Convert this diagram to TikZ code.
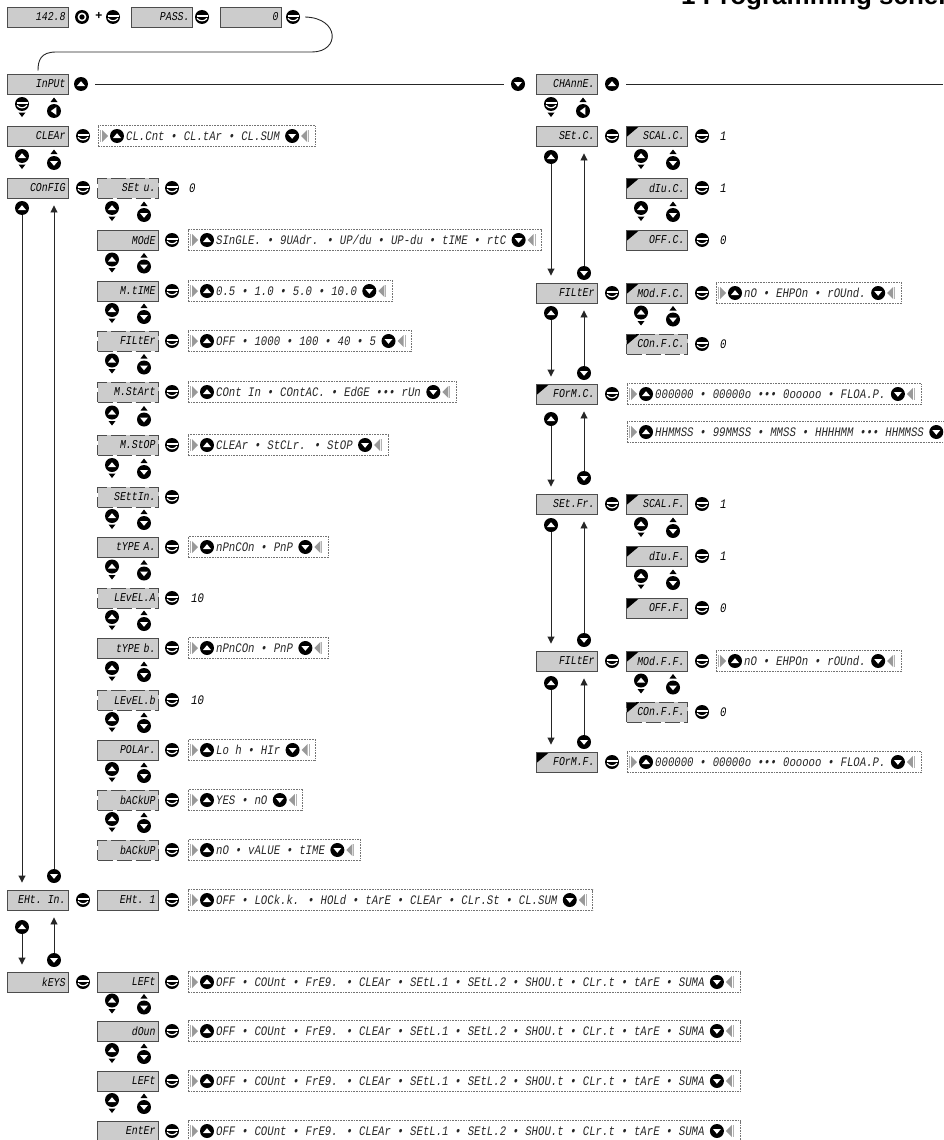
\documentclass[tikz,border=0pt]{standalone}
\usepackage{fontspec}
\setmainfont{Liberation Sans}
\newfontfamily\segfamily{Liberation Mono}[FakeStretch=0.82]
\usetikzlibrary{arrows.meta,positioning}

\newcommand{\seg}{\segfamily\itshape\fontsize{13}{14}\selectfont}
\newcommand{\segdisp}{\segfamily\itshape\fontsize{12}{13}\selectfont}
\newcommand{\kc}[1]{([shift={#1}]path picture bounding box.center)}
% option list: name, left x, y, entries
\newcommand{\optlist}[4]{%
  \coordinate (#1a) at (#2,#3-10.5);
  \coordinate (#1b) at (#2,#3+10.5);
  \draw[optbar] (#2+2.5,#3-6) -- (#2+2.5,#3+6);
  \fill[optmark] (#2+4,#3-6) -- (#2+10,#3) -- (#2+4,#3+6) -- cycle;
  \node[kup] (#1u) at (#2+19,#3) {};
  \node[opttext, anchor=west] (#1t) at (#2+28,#3) {#4};
  \node[kdn, right=5pt of #1t] (#1d) {};
  \path ([xshift=23pt]#1d.center) coordinate (#1r);
  \fill[optmark] ([xshift=9pt]#1d.center) -- ([xshift=15pt,yshift=6pt]#1d.center) -- ([xshift=15pt,yshift=-6pt]#1d.center) -- cycle;
  \draw[optbar] ([xshift=16.5pt,yshift=6pt]#1d.center) -- ([xshift=16.5pt,yshift=-6pt]#1d.center);
  \draw[optframe] (#1a) rectangle (#1r |- #1b);
}

\begin{document}
\begin{tikzpicture}[x=1pt, y=-1pt, font=\seg,
  key/.style={circle, fill=black, minimum size=14pt, inner sep=0pt},
  kup/.style={key, path picture={\fill[white] \kc{(-4pt,-2pt)} -- \kc{(4pt,-2pt)} -- \kc{(0pt,2.8pt)} -- cycle;}},
  kdn/.style={key, path picture={\fill[white] \kc{(-4pt,2pt)} -- \kc{(4pt,2pt)} -- \kc{(0pt,-2.8pt)} -- cycle;}},
  kent/.style={key, path picture={\fill[white] \kc{(-5.5pt,0.4pt)} rectangle \kc{(5.5pt,1.8pt)};
      \draw[white, line width=1.2pt] \kc{(-5pt,-1.4pt)} .. controls \kc{(-2pt,-4.6pt)} and \kc{(2pt,-4.6pt)} .. \kc{(5pt,-1.4pt)};}},
  kleft/.style={key, path picture={\fill[white] \kc{(-3.2pt,0pt)} -- \kc{(2.4pt,4pt)} -- \kc{(2.4pt,-4pt)} -- cycle;}},
  kmode/.style={key, path picture={\draw[white, line width=1.5pt] \kc{(0pt,0pt)} circle (3.6pt);}},
  disp/.style={draw=black!70, fill=black!20, line width=0.9pt, minimum width=61pt,
               minimum height=20pt, text width=55pt, align=right, inner sep=0pt, font=\segdisp},
  dispd/.style={disp, dash pattern=on 15pt off 4pt},
  corner/.style={path picture={\fill[black] (path picture bounding box.north west) -- ++(13pt,0pt) -- ++(-13pt,-11pt) -- cycle;}},
  link/.style={draw=black!85, line width=0.9pt, -{Triangle[width=7pt,length=7pt]}, shorten >=7pt},
  wire/.style={draw=black!85, line width=0.9pt},
  optframe/.style={draw=black!55, densely dotted, line width=0.6pt},
  optmark/.style={fill=black!40},
  optbar/.style={draw=black!30, line width=0.8pt},
  opttext/.style={font=\seg, text=black!85, inner sep=0pt},
  val/.style={font=\seg, anchor=west, inner sep=0pt},
  nav/.pic={
    \node[kup] (-a) at (-16,-6) {};
    \fill (-19.5,2.5) -- (-12.5,2.5) -- (-16,7) -- cycle;
    \fill (12.5,-8) -- (19.5,-8) -- (16,-12.5) -- cycle;
    \node[kdn] (-b) at (16,1) {};
  },
  navin/.pic={
    \node[kent] (-a) at (-16,-6) {};
    \fill (-19.5,2.5) -- (-12.5,2.5) -- (-16,7) -- cycle;
    \fill (12.5,-8) -- (19.5,-8) -- (16,-12.5) -- cycle;
    \node[kleft] (-b) at (16,1) {};
  }
]
\useasboundingbox (0,0) rectangle (943,1140);

\node[anchor=base west, inner sep=0pt, font=\fontsize{26}{26}\selectfont\bfseries] (title) at (681,5) {1 Programming scheme};

% access to the menu
\node[disp] (meas) at (38,17) {142.8};
\node[kmode] (kmd) at (82,17) {};
\node[font=\bfseries\large, inner sep=0pt] (plus) at (99,16) {+};
\node[kent] (ea) at (113,17) {};
\node[disp] (pass) at (162,17) {PASS.};
\node[kent] (eb) at (202,17) {};
\node[disp] (code) at (251,17) {0};
\node[kent] (ec) at (293,17) {};

\node[disp] (inp) at (38,84) {InPUt};
\draw[wire] ([xshift=5pt]ec.east) .. controls (340,18) and (340,52) .. (312,52) -- (56,52)
  .. controls (41,52) and (38,60) .. ([yshift=3pt]inp.north);

\node[kup] (kin) at (81,84) {};
\node[kdn] (kch) at (518,84) {};
\node[disp] (chn) at (567,84) {CHAnnE.};
\node[kup] (kchu) at (612,84) {};
\coordinate (edge) at (943,84);
\draw[wire, shorten <=7pt, shorten >=7pt] (kin) -- (kch);
\draw[wire, shorten <=7pt] (kchu) -- (edge);

% input menu
\pic (na) at (38,110) {navin};
\node[disp] (clr) at (38,136) {CLEAr};
\node[kent] (eclr) at (83,136) {};
\optlist{oclr}{98}{136}{CL.Cnt • CL.tAr • CL.SUM}

\pic (nb) at (38,162) {nav};
\node[disp] (cfg) at (38,188) {COnFIG};
\node[kent] (ecfg) at (83,188) {};

\node[dispd] (setu) at (128,188) {SEt u.};
\node[kent] (esetu) at (172,188) {};
\node[val] (vsetu) at (189,188) {0};

\node[disp] (mode) at (128,240) {MOdE};
\node[kent] (emode) at (172,240) {};
\optlist{omode}{188}{240}{SInGLE. • 9UAdr. • UP/du • UP-du • tIME • rtC}

\node[disp] (mtim) at (128,291) {M.tIME};
\node[kent] (emtim) at (172,291) {};
\optlist{omtim}{188}{291}{0.5 • 1.0 • 5.0 • 10.0}

\node[dispd] (filt) at (128,341) {FILtEr};
\node[kent] (efilt) at (172,341) {};
\optlist{ofilt}{188}{341}{OFF • 1000 • 100 • 40 • 5}

\node[dispd] (mstr) at (128,392) {M.StArt};
\node[kent] (emstr) at (172,392) {};
\optlist{omstr}{188}{392}{COnt In • COntAC. • EdGE ••• rUn}

\node[dispd] (mstp) at (128,445) {M.StOP};
\node[kent] (emstp) at (172,445) {};
\optlist{omstp}{188}{445}{CLEAr • StCLr. • StOP}

\node[dispd] (sett) at (128,497) {SEttIn.};
\node[kent] (esett) at (172,497) {};

\node[disp] (typa) at (128,547) {tYPE A.};
\node[kent] (etypa) at (172,547) {};
\optlist{otypa}{188}{547}{nPnCOn • PnP}

\node[dispd] (leva) at (128,598) {LEvEL.A};
\node[kent] (eleva) at (172,598) {};
\node[val] (vleva) at (191,598) {10};

\node[disp] (typb) at (128,648) {tYPE b.};
\node[kent] (etypb) at (172,648) {};
\optlist{otypb}{188}{648}{nPnCOn • PnP}

\node[dispd] (levb) at (128,700) {LEvEL.b};
\node[kent] (elevb) at (172,700) {};
\node[val] (vlevb) at (191,700) {10};

\node[disp] (pola) at (128,750) {POLAr.};
\node[kent] (epola) at (172,750) {};
\optlist{opola}{188}{750}{Lo h • HIr}

\node[dispd] (bcka) at (128,800) {bACkUP};
\node[kent] (ebcka) at (172,800) {};
\optlist{obcka}{188}{800}{YES • nO}

\node[dispd] (bckb) at (128,850) {bACkUP};
\node[kent] (ebckb) at (172,850) {};
\optlist{obckb}{188}{850}{nO • vALUE • tIME}

\foreach \y [count=\i] in {214,265.5,316,366.5,418.5,471,522,572.5,623,674,725,775,825}
  \pic (nc\i) at (128,\y) {nav};

% external input
\node[disp] (ehi) at (38,900) {EHt. In.};
\node[kent] (eehi) at (83,900) {};
\node[disp] (eh1) at (128,900) {EHt. 1};
\node[kent] (eeh1) at (172,900) {};
\optlist{oeh1}{188}{900}{OFF • LOCk.k. • HOLd • tArE • CLEAr • CLr.St • CL.SUM}

\node[kup] (ucfg) at (22,208) {};
\draw[link] (ucfg) -- (ucfg |- ehi.north);
\node[kdn] (dehi) at (54,876) {};
\draw[link] (dehi) -- (dehi |- cfg.south);

% keys
\node[disp] (kys) at (38,982) {kEYS};
\node[kent] (ekys) at (83,982) {};
\node[kup] (uehi) at (22,927) {};
\draw[link] (uehi) -- (uehi |- kys.north);
\node[kdn] (dkys) at (54,960) {};
\draw[link] (dkys) -- (dkys |- ehi.south);

\node[disp] (klft) at (128,982) {LEFt};
\node[kent] (eklft) at (172,982) {};
\optlist{oklft}{188}{982}{OFF • COUnt • FrE9. • CLEAr • SEtL.1 • SEtL.2 • SHOU.t • CLr.t • tArE • SUMA}
\node[disp] (kdwn) at (128,1031) {dOun};
\node[kent] (ekdwn) at (172,1031) {};
\optlist{okdwn}{188}{1031}{OFF • COUnt • FrE9. • CLEAr • SEtL.1 • SEtL.2 • SHOU.t • CLr.t • tArE • SUMA}
\node[disp] (klfb) at (128,1081) {LEFt};
\node[kent] (eklfb) at (172,1081) {};
\optlist{oklfb}{188}{1081}{OFF • COUnt • FrE9. • CLEAr • SEtL.1 • SEtL.2 • SHOU.t • CLr.t • tArE • SUMA}
\node[disp] (kent) at (128,1131) {EntEr};
\node[kent] (ekent) at (172,1131) {};
\optlist{okent}{188}{1131}{OFF • COUnt • FrE9. • CLEAr • SEtL.1 • SEtL.2 • SHOU.t • CLr.t • tArE • SUMA}
\foreach \y [count=\i] in {1006.5,1056,1106}
  \pic (nk\i) at (128,\y) {nav};

% channel menu
\pic (nd) at (567,110) {navin};
\node[disp] (setc) at (567,136) {SEt.C.};
\node[kent] (esetc) at (612,136) {};
\node[disp, corner] (sclc) at (657,136) {SCAL.C.};
\node[kent] (esclc) at (702,136) {};
\node[val] (vsclc) at (720,136) {1};
\node[disp, corner] (divc) at (657,188) {dIu.C.};
\node[kent] (edivc) at (702,188) {};
\node[val] (vdivc) at (720,188) {1};
\node[disp, corner] (offc) at (657,240) {OFF.C.};
\node[kent] (eoffc) at (702,240) {};
\node[val] (voffc) at (720,240) {0};

\node[disp] (fltc) at (567,293) {FILtEr};
\node[kent] (efltc) at (612,293) {};
\node[disp, corner] (mdfc) at (657,293) {MOd.F.C.};
\node[kent] (emdfc) at (702,293) {};
\optlist{omdfc}{716}{293}{nO • EHPOn • rOUnd.}
\node[dispd, corner] (cnfc) at (657,344) {COn.F.C.};
\node[kent] (ecnfc) at (702,344) {};
\node[val] (vcnfc) at (720,344) {0};

\node[disp, corner] (frmc) at (567,394) {FOrM.C.};
\node[kent] (efrmc) at (612,394) {};
\optlist{ofrmc}{627}{394}{000000 • 00000o ••• 0ooooo • FLOA.P.}
\optlist{otimc}{627}{432}{HHMMSS • 99MMSS • MMSS • HHHHMM ••• HHMMSS}

\node[disp] (setf) at (567,504) {SEt.Fr.};
\node[kent] (esetf) at (612,504) {};
\node[disp, corner] (sclf) at (657,504) {SCAL.F.};
\node[kent] (esclf) at (702,504) {};
\node[val] (vsclf) at (720,504) {1};
\node[disp, corner] (divf) at (657,556) {dIu.F.};
\node[kent] (edivf) at (702,556) {};
\node[val] (vdivf) at (720,556) {1};
\node[disp, corner] (offf) at (657,608) {OFF.F.};
\node[kent] (eofff) at (702,608) {};
\node[val] (vofff) at (720,608) {0};

\node[disp] (fltf) at (567,661) {FILtEr};
\node[kent] (efltf) at (612,661) {};
\node[disp, corner] (mdff) at (657,661) {MOd.F.F.};
\node[kent] (emdff) at (702,661) {};
\optlist{omdff}{716}{661}{nO • EHPOn • rOUnd.}
\node[dispd, corner] (cnff) at (657,712) {COn.F.F.};
\node[kent] (ecnff) at (702,712) {};
\node[val] (vcnff) at (720,712) {0};

\node[disp, corner] (frmf) at (567,762) {FOrM.F.};
\node[kent] (efrmf) at (612,762) {};
\optlist{ofrmf}{627}{762}{000000 • 00000o ••• 0ooooo • FLOA.P.}

\foreach \y [count=\i] in {162,214,318.5,530,582,686.5}
  \pic (ne\i) at (657,\y) {nav};

% channel links
\node[kup] (usetc) at (551,157) {};
\draw[link] (usetc) -- (usetc |- fltc.north);
\node[kdn] (dfltc) at (584,273) {};
\draw[link] (dfltc) -- (dfltc |- setc.south);
\node[kup] (ufltc) at (551,313) {};
\draw[link] (ufltc) -- (ufltc |- frmc.north);
\node[kdn] (dfrmc) at (584,373) {};
\draw[link] (dfrmc) -- (dfrmc |- fltc.south);
\node[kup] (ufrmc) at (551,419) {};
\draw[link] (ufrmc) -- (ufrmc |- setf.north);
\node[kdn] (dsetf) at (584,478) {};
\draw[link] (dsetf) -- (dsetf |- frmc.south);
\node[kup] (usetf) at (551,525) {};
\draw[link] (usetf) -- (usetf |- fltf.north);
\node[kdn] (dfltf) at (584,640) {};
\draw[link] (dfltf) -- (dfltf |- setf.south);
\node[kup] (ufltf) at (551,683) {};
\draw[link] (ufltf) -- (ufltf |- frmf.north);
\node[kdn] (dfrmf) at (584,742) {};
\draw[link] (dfrmf) -- (dfrmf |- fltf.south);
\end{tikzpicture}
\end{document}
